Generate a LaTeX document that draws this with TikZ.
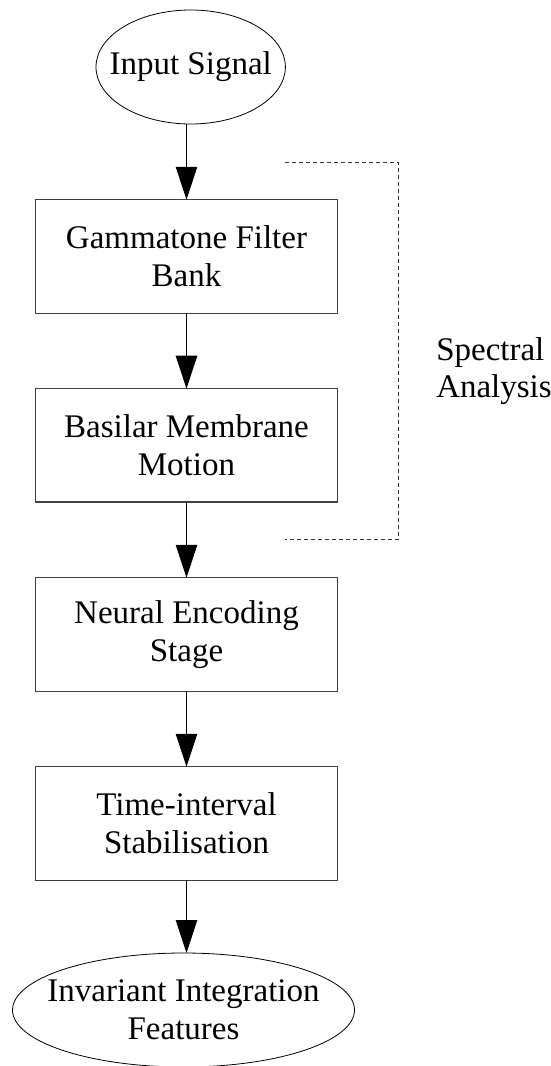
\documentclass[tikz,border=0pt]{standalone}
\usepackage{fontspec}
\setmainfont{Liberation Serif}
\usetikzlibrary{arrows.meta,shapes.geometric}
\begin{document}
\begin{tikzpicture}[x=1pt,y=-1pt,
  every node/.style={font=\fontsize{33}{37.7}\selectfont, inner sep=0pt, outer sep=0pt},
  stepbox/.style={draw=black!75, line width=1.1pt, minimum width=302.4pt, minimum height=113.3pt, align=center},
  term/.style={draw=black, line width=0.8pt, ellipse, align=center},
  flow/.style={draw=black, line width=0.9pt, -{Triangle[length=33pt,width=21.5pt]}},
  bracket/.style={draw=black!80, line width=0.9pt, dash pattern=on 4pt off 3pt}]
\useasboundingbox (0,0) rectangle (550,1066);
\node[term, inner xsep=-18pt, minimum width=189.4pt, minimum height=114pt] (in) at (190.7,67) {Input Signal};
\node[stepbox] (gf) at (186.5,256.4) {Gammatone Filter\\Bank};
\node[stepbox] (bm) at (186.5,445.3) {Basilar Membrane\\Motion};
\node[stepbox] (ne) at (186.5,634.4) {Neural Encoding\\Stage};
\node[stepbox] (ti) at (186.5,823.4) {Time-interval\\Stabilisation};
\node[term, inner xsep=-28pt, minimum width=342pt, minimum height=114pt] (out) at (183.5,1010) {Invariant Integration\\Features};
\draw[flow] (in.south -| gf.north) -- (gf.north);
\draw[flow] (gf) -- (bm);
\draw[flow] (bm) -- (ne);
\draw[flow] (ne) -- (ti);
\draw[flow] (ti.south) -- (ti.south |- out.north);
\coordinate (b1) at (285,162);
\coordinate (b2) at (398.3,162);
\coordinate (b3) at (398.3,539.7);
\coordinate (b4) at (285,539.7);
\draw[bracket] (b1) -- (b2) -- (b3) -- (b4);
\node[align=left, anchor=center] (sa) at (494,371) {Spectral\\Analysis};
\end{tikzpicture}
\end{document}
